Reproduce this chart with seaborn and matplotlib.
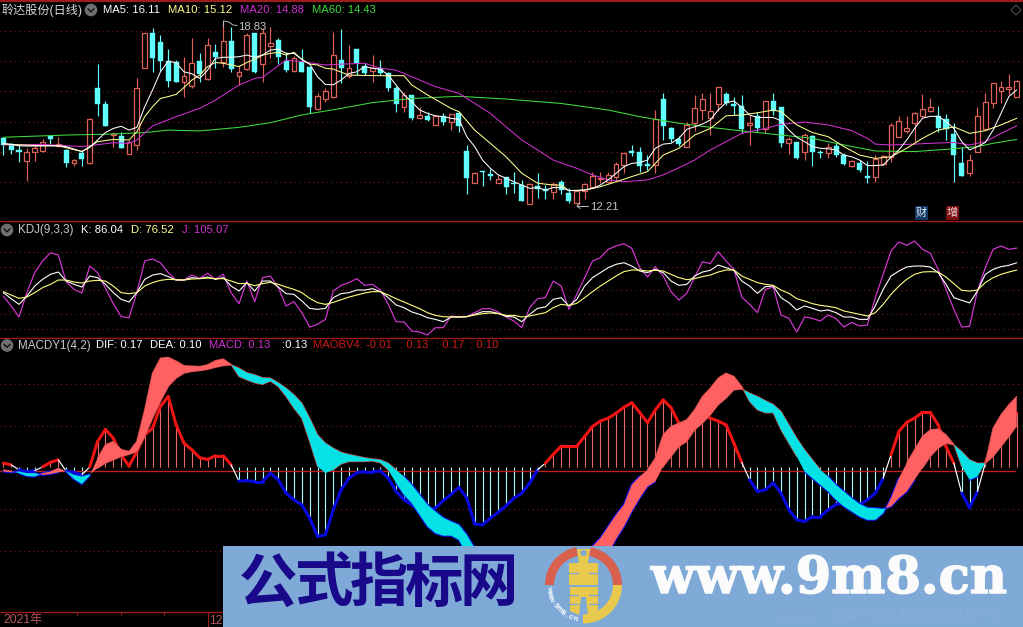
import numpy as np
import matplotlib
matplotlib.use("Agg")
import matplotlib.pyplot as plt
import matplotlib.patheffects as pe
from matplotlib.patches import Rectangle, Circle, Wedge, Polygon
import seaborn as sns

# ---- price pane ----
high = [14.66,14.44,14.36,14.24,14.36,14.56,14.72,14.66,14.20,13.86,14.18,15.33,17.30,15.96,14.84,14.84,14.54,16.78,18.45,18.60,
18.36,17.84,17.45,17.57,18.24,17.69,18.24,18.05,18.83,18.64,17.27,18.42,18.44,18.60,18.66,18.24,17.75,17.59,17.84,17.18,
16.24,16.42,18.48,18.58,18.00,17.84,17.33,17.63,17.45,17.02,16.50,16.30,16.18,15.75,15.57,15.45,15.53,15.48,15.57,14.36,
13.39,13.41,13.47,13.27,13.21,13.36,13.09,12.97,13.33,12.90,13.02,13.09,12.78,12.70,12.97,13.39,13.36,13.36,13.73,14.12,
14.36,14.27,13.99,15.63,16.24,15.02,14.68,15.21,16.18,16.24,16.24,16.45,16.28,16.09,16.18,15.45,15.57,15.97,16.24,15.75,
14.66,14.48,14.81,14.72,14.18,14.42,14.42,14.05,13.81,13.81,13.79,13.99,13.99,15.15,15.41,15.41,15.57,16.21,16.05,15.78,
15.48,15.15,14.30,14.03,15.73,16.26,16.60,16.68,16.94,16.72]
body_top = [14.61,14.39,14.18,14.12,14.24,14.45,14.70,14.38,14.18,13.80,14.08,15.30,16.42,15.85,14.76,14.67,14.48,16.42,18.42,18.42,
18.09,17.41,17.38,16.85,17.33,17.41,17.98,17.74,18.13,18.13,17.01,18.36,18.42,18.45,18.07,18.18,17.41,17.51,17.38,17.18,
16.15,16.33,17.65,17.45,17.15,17.84,17.24,17.15,17.15,16.96,16.44,16.18,16.18,15.45,15.41,15.41,15.42,15.47,15.51,14.14,
13.33,13.41,13.29,13.12,13.18,12.97,12.90,12.93,12.87,12.75,12.95,13.01,12.62,12.68,12.93,13.23,13.16,13.28,13.67,14.07,
14.14,14.10,13.67,15.29,16.02,14.98,14.59,15.09,15.70,16.03,15.59,16.45,16.21,15.85,15.78,15.15,15.41,15.96,15.96,15.73,
14.56,14.45,14.72,14.68,14.12,14.27,14.32,13.98,13.78,13.70,13.22,13.84,13.97,15.07,15.23,14.98,15.51,15.65,15.73,15.42,
15.32,14.75,13.69,13.80,15.40,15.91,16.60,16.45,16.45,16.68]
body_bot = [14.37,14.18,14.10,13.78,14.12,14.15,14.59,14.33,13.72,13.70,13.85,13.69,15.85,15.06,14.73,14.26,14.04,14.36,17.17,17.53,
17.42,16.68,16.66,16.66,16.50,16.94,16.76,17.56,17.39,17.12,16.85,17.11,17.01,17.29,17.97,17.57,17.08,17.05,17.01,15.75,
15.68,16.04,16.09,17.17,16.87,17.33,16.96,17.06,16.99,16.42,15.85,15.75,15.33,15.35,15.27,15.07,15.21,15.19,15.06,13.17,
12.99,13.36,13.23,12.99,12.84,12.93,12.33,12.22,12.75,12.68,12.66,12.72,12.32,12.24,12.68,12.83,13.11,13.02,13.21,13.64,
14.05,13.61,13.59,13.63,15.06,14.56,14.41,14.30,15.17,15.64,15.33,15.85,15.90,15.79,14.93,15.10,14.96,14.94,15.59,14.44,
14.42,13.90,14.12,14.12,14.05,14.08,13.99,13.68,13.61,13.44,13.17,13.18,13.67,13.93,14.66,14.87,15.17,15.41,15.61,14.98,
14.94,14.01,13.24,13.33,14.12,14.93,15.88,16.32,16.39,16.12]
low = [13.99,14.03,13.75,13.05,13.78,14.12,14.39,14.30,13.57,13.61,13.61,13.67,15.42,15.05,14.30,14.24,14.03,14.18,17.16,17.02,
17.06,16.48,16.64,16.12,16.44,16.66,16.72,17.16,17.21,17.02,16.54,17.08,16.99,16.66,17.51,17.29,17.02,17.02,17.00,15.51,
15.63,15.93,16.08,16.60,16.78,16.90,16.90,16.66,16.90,16.33,15.57,15.57,15.27,15.30,15.24,15.07,15.09,14.90,14.84,12.58,
12.97,12.87,13.09,12.97,12.56,12.60,12.31,12.24,12.42,12.39,12.38,12.56,12.26,12.21,12.39,12.78,12.99,12.97,13.06,13.33,
13.97,13.36,13.45,13.35,14.54,14.48,14.33,14.27,14.88,15.27,14.72,15.61,15.81,15.45,14.81,14.36,14.84,14.78,15.45,14.30,
14.03,13.86,13.81,13.61,13.90,13.90,13.93,13.64,13.57,13.39,12.99,13.02,13.63,13.75,14.64,14.78,14.48,15.39,15.56,14.84,
14.54,13.00,13.23,13.24,14.10,14.90,15.69,15.87,16.18,16.09]
rising = [0,0,0,1,1,1,0,1,0,1,0,1,0,0,1,0,1,1,1,0,
0,0,0,1,1,0,1,0,1,0,1,1,0,1,1,0,0,1,0,0,
1,1,1,0,1,0,0,1,0,0,0,1,0,1,0,1,0,1,0,0,
1,0,0,1,0,0,0,1,0,0,1,0,0,1,1,1,1,1,1,1,
0,0,0,1,0,0,0,1,1,1,1,1,0,0,0,1,0,1,0,0,
1,0,1,0,0,1,0,0,1,0,0,1,1,1,1,1,1,1,1,0,
0,0,0,1,1,1,1,1,1,1]

ma5 = [14.42,14.38,14.33,14.32,14.32,14.33,14.33,14.33,14.30,14.21,14.12,14.27,14.54,14.81,14.96,15.04,14.90,15.00,15.75,16.36,
17.02,17.41,17.35,17.02,16.95,16.78,17.08,17.51,17.55,17.55,17.57,17.63,17.55,17.63,17.81,17.85,17.69,17.69,17.47,17.30,
16.84,16.56,16.55,16.72,16.96,17.02,17.21,17.15,17.12,16.90,16.54,16.18,15.93,15.63,15.51,15.42,15.39,15.33,15.29,14.66,
14.30,13.81,13.51,13.27,13.15,13.02,12.90,12.78,12.81,12.72,12.81,12.81,12.70,12.70,12.72,12.78,12.90,13.09,13.33,13.57,
13.69,13.72,13.81,14.24,14.39,14.42,14.60,14.93,15.02,15.12,15.27,15.63,15.90,15.96,15.73,15.45,15.36,15.36,15.36,15.24,
14.90,14.64,14.48,14.30,14.24,14.22,14.18,13.99,13.93,13.81,13.61,13.61,13.63,13.91,14.18,14.54,14.96,15.33,15.40,15.40,
15.21,14.96,14.48,14.18,14.30,14.45,14.90,15.51,16.12,16.36]
ma10_x = [0,5,7,10,12,14,16,17,18,19,20,21,22,23,24,25,26,27,28,29,30,31,32,33,34,35,36,37,38,39,40,41,42,44,48,51,52,54,57,58,60,62,64,66,68,70,71,72,74,76,78,80,82,83,84,86,
88,90,92,94,96,98,99,101,103,105,107,109,111,113,115,117,119,121,123,125,127,129]
ma10 = [14.39,14.33,14.33,14.12,14.48,14.56,14.54,14.84,15.39,15.75,16.05,16.12,16.20,16.45,16.72,16.90,17.21,17.36,17.33,17.27,17.21,17.36,17.47,17.63,17.69,17.73,17.63,17.73,17.47,17.30,17.27,17.15,17.12,16.90,16.88,16.88,16.54,16.18,15.69,15.57,14.90,14.42,13.93,13.33,12.97,12.90,12.90,12.70,12.72,12.84,13.02,13.21,13.39,13.69,13.99,14.24,
14.72,14.96,15.42,15.45,15.53,15.63,15.57,15.09,14.81,14.66,14.30,13.99,13.87,13.93,14.24,14.60,14.90,15.02,14.78,14.88,15.09,15.33]
ma20_x = [0,5,10,14,16,17,19,22,25,27,30,32,33,36,38,41,43,46,48,50,53,55,58,60,62,64,66,68,70,73,75,77,79,82,84,86,88,90,92,94,97,99,102,105,108,110,111,113,116,118,121,123,125,127,129]
ma20 = [14.36,14.38,14.30,14.44,14.42,14.54,15.05,15.39,15.69,15.99,16.54,16.78,16.82,17.45,17.39,17.27,17.30,17.33,17.15,17.08,16.72,16.48,16.24,15.87,15.51,15.02,14.54,14.18,13.81,13.51,13.27,13.09,13.02,13.09,13.27,13.53,13.81,14.18,14.48,14.78,14.96,15.11,15.19,15.09,14.88,14.60,14.39,14.36,14.39,14.42,14.45,14.36,14.48,14.78,15.06]
ma60_x = [0,8,13,18,21,25,30,34,38,43,47,52,58,64,71,77,81,86,90,95,99,103,107,111,116,120,124,126,129]
ma60 = [14.64,14.72,14.75,14.81,14.90,14.87,15.00,15.17,15.45,15.69,15.90,16.05,16.13,16.03,15.87,15.63,15.39,15.15,15.00,14.84,14.72,14.60,14.36,14.14,14.12,14.20,14.30,14.42,14.56]
price_grid = [18.50,17.40,16.31,15.21,14.12,13.00]

# ---- KDJ pane ----
kdj_k = [47.2,39.4,32.0,42.8,55.8,64.5,71.0,74.0,62.3,58.0,54.5,68.8,66.7,58.0,47.2,38.5,35.1,47.2,64.5,70.1,
71.9,68.0,63.6,63.6,66.7,65.4,67.5,64.5,66.7,55.8,49.3,60.2,49.3,62.3,62.3,54.5,45.9,45.0,36.4,26.8,
25.5,26.8,40.7,45.9,47.2,50.6,50.6,52.4,48.5,40.7,31.2,27.7,22.1,19.0,14.7,12.5,9.5,15.6,15.6,16.0,
19.0,22.5,22.5,20.3,16.4,15.6,9.5,19.0,26.8,28.6,38.5,40.7,29.9,38.5,55.8,66.7,73.2,79.6,84.0,86.1,
81.8,75.3,73.2,77.5,73.2,62.3,56.7,58.0,68.8,74.0,76.2,83.1,79.6,76.2,62.3,55.8,46.3,55.0,55.8,40.7,
34.2,24.7,29.9,26.8,23.4,24.7,21.2,15.6,15.6,12.5,12.5,29.9,51.5,68.8,75.3,80.5,81.8,81.8,80.5,73.2,
58.0,40.7,37.2,33.8,49.3,71.0,77.5,81.0,82.7,86.04]
kdj_d = [48.5,44.1,39.8,41.5,47.2,53.7,58.0,63.6,63.6,61.0,59.7,62.3,63.2,62.3,55.8,47.2,45.9,47.2,55.8,60.2,
63.2,64.5,64.1,63.6,64.9,65.4,66.2,65.4,65.4,62.3,58.9,59.3,56.3,58.9,60.6,58.0,54.5,51.5,47.2,39.8,
34.2,32.0,34.6,38.1,41.5,44.1,46.7,48.5,48.5,44.1,39.4,35.1,30.7,26.4,21.2,17.7,16.0,15.6,15.6,16.0,
18.2,19.9,20.8,19.9,17.7,17.7,15.6,16.9,19.0,21.2,27.7,32.0,30.7,33.3,40.7,48.5,55.8,62.3,68.8,74.5,
76.6,76.6,75.3,76.2,75.3,71.0,66.7,64.1,65.4,68.0,70.1,74.0,76.6,76.6,68.8,64.5,60.2,58.0,56.7,50.6,
46.3,39.4,36.4,32.9,30.7,29.4,27.7,23.4,21.2,19.0,16.9,21.2,32.0,45.0,55.8,64.5,71.0,74.0,74.5,74.0,
67.5,58.9,50.2,49.3,50.6,60.2,66.7,71.0,74.0,76.52]
kdj_j = [42.8,29.9,15.6,47.2,73.2,88.3,99.1,96.1,61.5,51.5,46.7,81.8,73.2,52.8,32.9,16.0,14.7,47.2,88.3,90.9,
86.1,73.2,63.6,63.6,70.1,65.8,72.3,64.5,71.0,47.2,32.9,62.3,35.5,66.7,68.8,53.7,29.9,35.5,21.2,2.6,
6.0,12.5,49.3,56.7,60.2,65.4,56.7,58.0,50.6,32.0,9.5,9.1,-2.6,-3.9,-7.8,1.7,1.7,16.9,15.6,16.0,
21.2,26.4,26.4,22.1,15.6,10.4,1.7,27.7,39.4,40.7,62.3,55.8,25.5,45.0,66.7,88.3,92.6,103.5,107.8,110.8,
104.8,79.6,67.5,81.0,68.8,48.5,37.6,46.3,67.5,87.4,84.8,100.4,88.3,77.5,41.5,32.0,21.2,51.5,54.5,18.2,
13.8,-3.9,15.6,13.8,10.4,18.2,13.4,2.6,8.6,3.9,5.2,40.7,71.0,101.3,113.0,108.7,114.3,103.5,98.3,77.5,
51.5,25.5,2.6,3.4,49.3,79.6,103.5,107.8,103.5,105.07]
kdj_grid = [100,80,50,20,0]

# ---- MACD pane ----
macd = [.010,.006,-.006,-.010,-.008,.001,.012,.018,-.009,-.012,-.018,.001,.062,.091,.070,.030,.003,.038,.078,.094,
.146,.170,.102,.058,.042,.023,.019,.028,.028,.006,-.033,-.032,-.034,-.034,-.014,-.030,-.062,-.078,-.090,-.122,
-.166,-.162,-.102,-.054,-.026,-.013,-.010,-.010,-.009,-.026,-.058,-.078,-.090,-.106,-.102,-.098,-.080,-.065,-.048,-.074,
-.136,-.138,-.122,-.108,-.092,-.074,-.062,-.038,-.006,.010,.031,.051,.051,.051,.074,.098,.111,.118,.130,.144,
.155,.132,.107,.138,.162,.143,.106,.102,.110,.126,.118,.111,.102,.058,.012,-.030,-.058,-.054,-.037,-.062,
-.102,-.126,-.130,-.118,-.118,-.102,-.089,-.086,-.086,-.090,-.078,-.062,-.026,.030,.086,.108,.118,.132,.132,.102,
.050,.010,-.062,-.097,-.058,.010,.062,.086,.110,.130]
dif = [-.006,-.009,-.014,-.021,-.022,-.014,-.010,-.001,-.010,-.028,-.040,-.020,.022,.054,.062,.043,.038,.062,.138,.226,
.262,.264,.255,.244,.243,.242,.246,.256,.260,.247,.218,.210,.203,.199,.207,.194,.170,.142,.118,.062,
.002,-.014,-.006,.008,.014,.014,.014,.015,.011,-.006,-.038,-.066,-.086,-.114,-.142,-.158,-.164,-.164,-.174,-.210,
-.242,-.274,-.306,-.330,-.346,-.354,-.350,-.342,-.314,-.298,-.278,-.258,-.238,-.218,-.202,-.190,-.170,-.142,-.114,-.090,
-.042,-.022,-.006,.022,.078,.098,.106,.114,.138,.170,.190,.214,.226,.218,.194,.158,.138,.131,.131,.090,
.058,.026,-.010,-.026,-.042,-.058,-.078,-.094,-.106,-.118,-.126,-.126,-.110,-.074,-.026,.010,.042,.074,.090,.092,
.078,.055,.002,-.030,-.022,.010,.094,.126,.150,.170]
dea = [-.010,-.012,-.010,-.014,-.014,-.018,-.016,-.012,-.009,-.018,-.022,-.017,-.002,.010,.018,.026,.031,.038,.074,.118,
.158,.194,.214,.226,.230,.232,.235,.240,.244,.246,.238,.227,.222,.215,.214,.203,.190,.174,.154,.118,
.078,.058,.046,.036,.031,.027,.023,.020,.018,.010,-.006,-.022,-.042,-.066,-.090,-.106,-.121,-.130,-.138,-.162,
-.194,-.226,-.258,-.290,-.314,-.322,-.330,-.334,-.346,-.342,-.334,-.322,-.310,-.290,-.270,-.250,-.234,-.206,-.172,-.142,
-.106,-.074,-.046,-.034,.002,.026,.050,.062,.090,.106,.126,.150,.166,.186,.188,.178,.170,.160,.151,.134,
.102,.070,.042,.018,-.006,-.022,-.042,-.058,-.074,-.088,-.097,-.098,-.100,-.094,-.074,-.058,-.030,-.002,.026,.046,
.058,.054,.038,.018,.010,.010,.026,.050,.074,.100]
macd_grid = [.2,.1,-.1,-.2]
base_level = -.009

candle_idx = np.arange(len(high))
RED, CYAN = "#e0605a", "#62ffff"

sns.set_theme(style="dark", rc={"axes.facecolor": "black", "figure.facecolor": "black"})
plt.rcParams["font.family"] = ["Liberation Sans", "Noto Sans CJK SC", "DejaVu Sans"]

W, H = 1023, 627
fig = plt.figure(figsize=(W / 100, H / 100), dpi=100, facecolor="black")

def pane(top, bottom, ylim):
    ax = fig.add_axes([0, 1 - bottom / H, 1, (bottom - top) / H], zorder=1)
    ax.set_xlim(-0.42, 129.8)
    ax.set_ylim(*ylim)
    ax.set_axis_off()
    return ax

def gridlines(ax, levels):
    for lv in levels:
        ax.axhline(lv, color="#7d1a1a", lw=0.8, ls=(0, (1, 3.2)), zorder=0)

def line(ax, x, y, color, lw=0.75, z=3):
    sns.lineplot(x=x, y=y, ax=ax, color=color, lw=lw, legend=False, errorbar=None,
                 estimator=None, sort=False, zorder=z)

# price pane
ax1 = pane(2, 220, (11.63, 19.56))
gridlines(ax1, price_grid)
up = np.array(rising, bool)
ax1.vlines(candle_idx, low, high, colors=[RED if u else CYAN for u in up], lw=0.85, zorder=1)
ax1.bar(candle_idx[~up], np.array(body_top)[~up] - np.array(body_bot)[~up], bottom=np.array(body_bot)[~up],
        width=0.64, color=CYAN, edgecolor=CYAN, lw=0.3, zorder=2)
ax1.bar(candle_idx[up], np.array(body_top)[up] - np.array(body_bot)[up], bottom=np.array(body_bot)[up],
        width=0.62, color="black", edgecolor=RED, lw=0.9, zorder=2)
line(ax1, ma60_x, ma60, "#3fdc3f")
line(ax1, ma20_x, ma20, "#d030d0")
line(ax1, ma10_x, ma10, "#ffff90")
line(ax1, candle_idx, ma5, "white")

# KDJ pane
ax2 = pane(221, 337, (-10.39, 140.26))
gridlines(ax2, kdj_grid)
line(ax2, candle_idx, kdj_j, "#d838d8", lw=0.85)
line(ax2, candle_idx, kdj_k, "white", lw=0.8)
line(ax2, candle_idx, kdj_d, "#ffff80", lw=0.8)

# MACD pane
ax3 = pane(338, 612, (-.3472, .3104))
gridlines(ax3, macd_grid)
m = np.array(macd); d1 = np.array(dif); d2 = np.array(dea)
ax3.vlines(candle_idx, 0, m, colors=["#e86a6a" if v >= 0 else "#a8ffff" for v in m], lw=0.8, zorder=1)
ax3.axhline(base_level, color="#c02222", lw=0.95, xmax=0.992, zorder=2)
for i in range(len(m) - 1):
    a, b = m[i], m[i + 1]
    if a >= 0 and b >= 0:
        c, w = "#f01414", 2.2
    elif a < 0 and b < 0:
        c, w = "#0808e0", 2.2
    else:
        c, w = "white", 0.85
    ax3.plot([i, i + 1], [a, b], color=c, lw=w, zorder=3, solid_capstyle="round")
for series in (d1, d2):
    ax3.plot(candle_idx, np.where(series < base_level, series, np.nan), color="#1010e0", lw=1.6, zorder=4)
    ax3.plot(candle_idx, np.where(series >= base_level, series, np.nan), color="#c04848", lw=1.0, zorder=4)
ax3.fill_between(candle_idx, d1, d2, where=d1 >= d2, interpolate=True, color="#ff6062", lw=0, zorder=5)
ax3.fill_between(candle_idx, d1, d2, where=d1 <= d2, interpolate=True, color="#04e2e6", lw=0, zorder=5)

# overlay: frame, texts, banner
ov = fig.add_axes([0, 0, 1, 1], zorder=5)
ov.set_xlim(0, W); ov.set_ylim(H, 0); ov.set_axis_off(); ov.patch.set_alpha(0)

FS = 8.1
def T(x, y, s, color="white", fs=FS, **kw):
    kw.setdefault("va", "center")
    return ov.text(x, y, s, color=color, fontsize=fs, **kw)

for y, lw in [(1, 1.6), (220.5, 1.0), (337.5, 1.0), (612, 1.0)]:
    ov.plot([0, W], [y, y], color="#9a1c1c", lw=lw, zorder=1)
ov.plot([207.5, 207.5], [612, 627], color="#9a1c1c", lw=0.8)
for tx in (77, 121, 164):
    ov.plot([tx, tx], [612, 614.5], color="#9a1c1c", lw=0.8)
T(3, 620.5, "2021年", "#b85858", 8.7)
T(209, 620.5, "12", "#b85858", 8.7)

def chevron(cx, cy):
    ov.add_patch(Circle((cx, cy), 6.3, fc="#6f6f6f", ec="none"))
    ov.plot([cx - 3, cx, cx + 3], [cy - 1.2, cy + 1.8, cy - 1.2], color="#111111", lw=1.0)

T(2, 10.5, "聆达股份(日线)", "#d8d8d8", 8.7)
chevron(91, 10)
T(103, 10, "MA5: 16.11", "white")
T(168, 10, "MA10: 15.12", "#ffff90")
T(240, 10, "MA20: 14.88", "#d030d0")
T(312, 10, "MA60: 14.43", "#3fdc3f")
ov.add_patch(Polygon([(1016, 5), (1021, 10), (1016, 15), (1011, 10)], fc="none", ec="#555555", lw=0.7))

chevron(7, 230)
T(18, 230, "KDJ(9,3,3)", "#c8c8c8", 8.4)
T(81, 230, "K: 86.04", "white")
T(131, 230, "D: 76.52", "#ffff90")
T(182, 230, "J: 105.07", "#d030d0")

chevron(7, 345.5)
T(18, 345.5, "MACDY1(4,2)", "#c8c8c8", 8.4)
T(96, 345.5, "DIF: 0.17", "white")
T(150, 345.5, "DEA: 0.10", "white")
T(209, 345.5, "MACD: 0.13", "#d030d0")
T(282, 345.5, ":0.13", "white")
T(313, 345.5, "MAOBV4: -0.01", "#d01818")
T(400, 345.5, ": 0.13", "#d01818")
T(435.5, 345.5, ": 0.17", "#d01818")
T(470.5, 345.5, ": 0.10", "#d01818")

# extreme labels
ov.plot([223.5, 223.5, 229, 233, 237], [27, 21, 22, 25, 25.5], color="#bbbbbb", lw=0.7)
T(238, 27, "18.83", "#c4c4c4", 8.1)
ov.plot([577, 588], [206, 206], color="#bbbbbb", lw=0.7)
ov.plot([580, 577, 580], [203.5, 206, 208.5], color="#bbbbbb", lw=0.7)
T(590, 206.5, "12.21", "#c4c4c4", 8.1)

# event badges
ov.add_patch(Rectangle((915, 206), 13, 14, fc="#133a66", ec="none"))
T(921.5, 213, "财", "#dfe8f0", 8, ha="center")
ov.add_patch(Rectangle((946, 206), 13, 14, fc="#7a1010", ec="none"))
T(952.5, 213, "增", "#f0e0e0", 8, ha="center")

# banner
BLUE = "#7fa9d7"
ov.add_patch(Rectangle((223, 546), 800, 81, fc=BLUE, ec="none", zorder=6))
for xc, ch in zip([268, 324.5, 378.5, 433.5, 489], "公式指标网"):
    T(xc, 584.5, ch, "#19088a", 42, ha="center", fontweight="bold",
      family=["Noto Sans CJK SC"], zorder=7)
T(651, 579.5, "www.9m8.cn", "#fbfbfb", 36.8, family=["DejaVu Serif"], fontweight="bold", zorder=7,
  path_effects=[pe.withStroke(linewidth=1.1, foreground="#fbfbfb")])
T(832, 615, "股票下载网 股票公式分享平台", "#87aedb", 9.3, family=["Noto Sans CJK SC"], zorder=7)
T(774, 620, "2022/03", "#87aedb", 8.2, zorder=7)

cx, cy = 583.5, 585
for t1, t2, col in [(180, 259, "#d8604c"), (281, 360, "#d8604c"), (0, 91, "#e8c94c")]:
    ov.add_patch(Wedge((cx, cy), 38.5, t1, t2, width=9, fc=col, ec="none", zorder=7))
GOLD = "#e8c94c"
ov.add_patch(Polygon([(577, 549), (590, 549), (588, 563), (598, 563), (598, 585), (569, 585), (569, 563), (579, 563)],
                     fc=GOLD, ec="none", zorder=7))
ov.add_patch(Circle((583.5, 553), 3, fc=BLUE, ec="none", zorder=8))
ov.add_patch(Polygon([(570, 587), (598, 587), (598, 611), (588, 615), (586, 597), (581, 597), (579, 615), (570, 611)],
                     fc=GOLD, ec="none", zorder=7))
for yy in (573, 595, 604):
    ov.plot([569, 578], [yy, yy], color=BLUE, lw=1.0, zorder=8)
    ov.plot([589, 598], [yy, yy], color=BLUE, lw=1.0, zorder=8)
for k, ch in enumerate("www.9m8.cn"):
    deg = 174 - k * 7.7
    th = np.deg2rad(deg)
    ov.text(cx + 35 * np.cos(th), cy + 35 * np.sin(th), ch, color="white", fontsize=5.4, fontweight="bold",
            ha="center", va="center", rotation=90 - deg, zorder=8)

fig.savefig("out.png", dpi=100, facecolor="black")
